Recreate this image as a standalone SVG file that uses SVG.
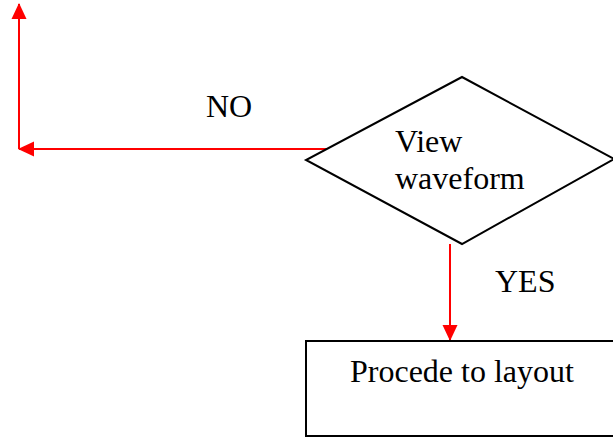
<svg xmlns="http://www.w3.org/2000/svg" width="613" height="438" viewBox="0 0 613 438">
<defs>
<marker id="ah" markerWidth="16" markerHeight="16" refX="15" refY="8" orient="auto" markerUnits="userSpaceOnUse" viewBox="0 0 16 16">
<path d="M0,0.5 L16,8 L0,15.5 z" fill="#ff0000"/>
</marker>
<style>
.t{font-family:"Liberation Serif","Times New Roman",serif;font-size:32px;fill:#000}
.n{fill:#fff;stroke:#000;stroke-width:2}
.c{fill:none;stroke:#ff0000;stroke-width:2}
</style>
</defs>
<rect width="613" height="438" fill="#fff"/>
<g id="connectors">
<path class="c" d="M330,149 L19,149" marker-end="url(#ah)"/>
<path class="c" d="M19,149 L19,4" marker-end="url(#ah)"/>
<path class="c" d="M450,244 L450,340" marker-end="url(#ah)"/>
</g>
<g id="decision">
<polygon class="n" points="462,77 614,159 462,244 306,160"/>
<text class="t" x="395" y="152">View</text>
<text class="t" x="395" y="189">waveform</text>
</g>
<g id="layout">
<rect class="n" x="306" y="341" width="320" height="95"/>
<text class="t" x="350" y="382">Procede to layout</text>
</g>
<g id="labels">
<text class="t" x="206" y="117">NO</text>
<text class="t" x="495" y="292">YES</text>
</g>
</svg>
